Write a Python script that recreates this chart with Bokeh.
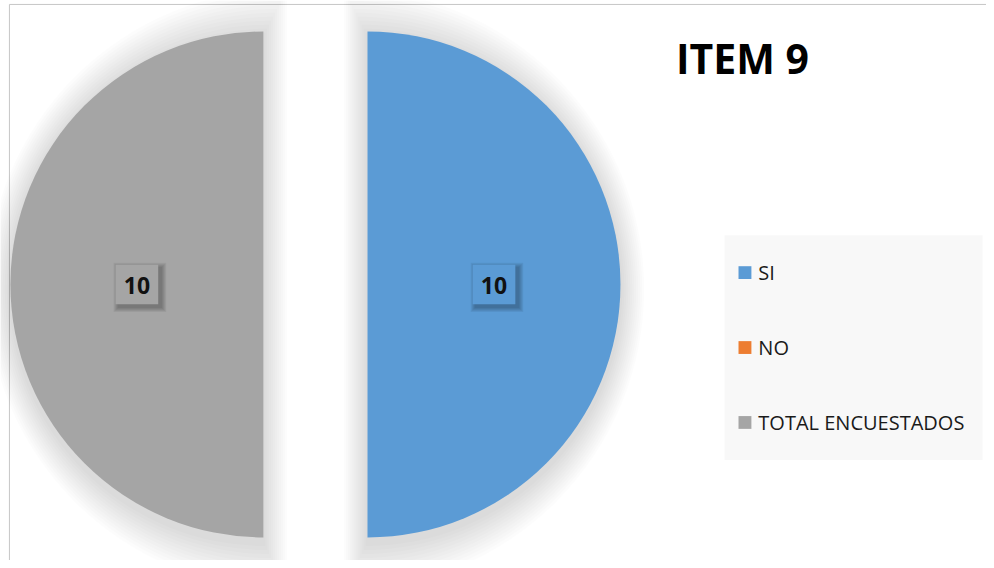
import math
from bokeh.plotting import figure
from bokeh.models import Range1d, ColumnDataSource
from bokeh.core.properties import value
from bokeh.embed import file_html
from bokeh.resources import INLINE

# ---- data ----
categories = ["SI", "NO", "TOTAL ENCUESTADOS"]
counts = [10, 0, 10]
colors = ["#5B9BD5", "#ED7D31", "#A5A5A5"]
title_text = "ITEM 9"

W, H = 986, 560
p = figure(width=W, height=H, output_backend="svg", toolbar_location=None,
           x_range=Range1d(0, 994), y_range=Range1d(0, 568), min_border=0)
p.axis.visible = False
p.grid.visible = False
p.outline_line_color = None
p.background_fill_color = "white"
p.border_fill_color = "white"

# chart border (left + top)
p.segment(x0=[9, 9], y0=[0, 564], x1=[9, 994], y1=[564, 564],
          line_color="#c6c6c6", line_width=1)

# ---- pie geometry ----
cx, cy = 317.5, 280.0
R = 255.0
explode = 52.5
total = sum(counts)

slices = []
cum = 0
for cat, v, c in zip(categories, counts, colors):
    a0 = 360.0 * cum / total
    a1 = 360.0 * (cum + v) / total
    cum += v
    start = math.radians(90 - a1)
    end = math.radians(90 - a0)
    mid = (start + end) / 2
    sx = cx + explode * math.cos(mid)
    sy = cy + explode * math.sin(mid)
    slices.append(dict(cat=cat, v=v, c=c, start=start, end=end, mid=mid, x=sx, y=sy))

visible = [s for s in slices if s["v"] > 0]

# soft shadow halo
for s in visible:
    for k in range(1, 13):
        d = k * 2.0
        hx = s["x"] - d * math.cos(s["mid"])
        hy = s["y"] - 5
        p.wedge(x=[hx], y=[hy], radius=R + 2 * d, start_angle=[s["start"]], end_angle=[s["end"]],
                fill_color="#000000", fill_alpha=0.010, line_color=None)

# slices
for s in visible:
    p.wedge(x=[s["x"]], y=[s["y"]], radius=R, start_angle=[s["start"]], end_angle=[s["end"]],
            fill_color=s["c"], line_color=None)

# data labels
for s in visible:
    lx = s["x"] + 0.5 * R * math.cos(s["mid"])
    ly = s["y"] + 0.5 * R * math.sin(s["mid"])
    for k in range(1, 6):
        p.rect(x=[lx + 3], y=[ly - 3], width=43 + 2 * k, height=40 + 2 * k,
               fill_color="#000000", fill_alpha=0.06, line_color=None)
    p.rect(x=[lx], y=[ly], width=43, height=40, fill_color=s["c"], line_color=None)
    p.text(x=[lx], y=[ly - 1], text=[str(s["v"])], text_align="center", text_baseline="middle",
           text_font=value("Open Sans"), text_font_style="bold", text_font_size="23px",
           text_color="#111111")

# title
p.text(x=[748], y=[510], text=[title_text], text_align="center", text_baseline="middle",
       text_font=value("Open Sans"), text_font_style="bold", text_font_size="41px",
       text_color="#000000")

# legend
p.quad(left=[730], right=[990], bottom=[102], top=[330], fill_color="#F8F8F8", line_color=None)
leg_y = [292, 216, 140]
src = ColumnDataSource(dict(x=[750.5] * 3, y=leg_y, c=colors, t=categories, tx=[764] * 3))
p.rect(x="x", y="y", width=13, height=13, fill_color="c", line_color=None, source=src)
p.text(x="tx", y="y", text="t", text_align="left", text_baseline="middle",
       text_font=value("Open Sans"), text_font_size="20px", text_color="#1a1a1a", source=src)

open("out.html", "w").write(file_html(p, INLINE))
